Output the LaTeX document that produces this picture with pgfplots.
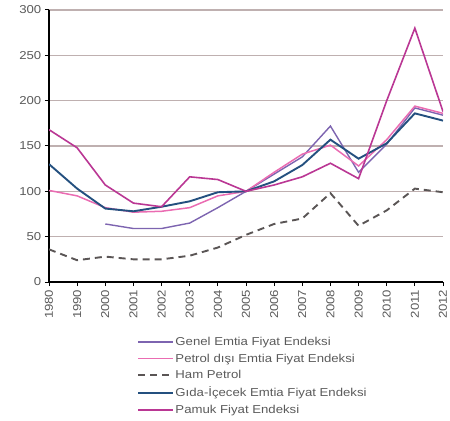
\documentclass[border=0pt]{standalone}
\usepackage{fontspec}
\setmainfont{Liberation Sans}
\newfontfamily\labfont{Liberation Sans}[FakeStretch=1.15]
\usepackage{pgfplots}
\pgfplotsset{compat=1.18}
\definecolor{cGenel}{HTML}{7D64B0}
\definecolor{cPetD}{HTML}{EA6CB2}
\definecolor{cHam}{HTML}{5A5555}
\definecolor{cGida}{HTML}{24507F}
\definecolor{cPamuk}{HTML}{BA3794}
\definecolor{cGrid}{HTML}{BFB0B0}
\definecolor{cTxt}{HTML}{5A5A5A}
\begin{document}
\begin{tikzpicture}
\useasboundingbox (-49bp,-139bp) rectangle (401bp,282bp);
\begin{axis}[
  scale only axis,
  width=394bp, height=272bp,
  xmin=0, xmax=14, ymin=0, ymax=300,
  ytick={0,50,...,300},
  xtick={0,...,14},
  xticklabels={1980,1990,2000,2001,2002,2003,2004,2005,2006,2007,2008,2009,2010,2011,2012},
  xticklabel style={rotate=90, anchor=east, font=\labfont\fontsize{11.5}{10}\selectfont, text=cTxt, inner sep=3.5pt},
  yticklabel style={font=\labfont\fontsize{11.5}{10}\selectfont, text=cTxt, inner sep=3.5pt},
  /pgf/number format/assume math mode=true,
  axis x line*=bottom, axis y line*=left,
  axis line style={black, line width=1.3bp, -},
  tick style={black, line width=1bp},
  major tick length=4bp,
  tick align=outside,
  ymajorgrids, grid style={cGrid, line width=1.4bp},
  legend style={at={(rel axis cs:0.223,-0.195)}, anchor=north west, draw=none, fill=none,
    font=\labfont\fontsize{11.5}{10}\selectfont, text=cTxt, row sep=2.8bp, inner sep=0pt},
  legend cell align=left,
  legend image code/.code={\draw[#1] (0bp,0bp) -- (35bp,0bp);},
  every axis legend/.append style={nodes={inner xsep=1.5bp}},
]
\addplot[cGenel, line width=1.4bp] coordinates {(2,64) (3,59) (4,59) (5,65) (6,82) (7,100) (8,119) (9,138) (10,172) (11,121) (12,152) (13,192) (14,184)};
\addlegendentry{Genel Emtia Fiyat Endeksi}
\addplot[cPetD, line width=1.5bp] coordinates {(0,101) (1,95) (2,82) (3,77) (4,78) (5,82) (6,95) (7,100) (8,121) (9,141) (10,151) (11,128) (12,157) (13,194) (14,186)};
\addlegendentry{Petrol dışı Emtia Fiyat Endeksi}
\addplot[cHam, line width=1.9bp, dash pattern=on 7bp off 5bp] coordinates {(0,36) (1,24) (2,28) (3,25) (4,25) (5,29) (6,38) (7,52) (8,64) (9,70) (10,98) (11,62) (12,79) (13,103) (14,99)};
\addlegendentry{Ham Petrol}
\addplot[cGida, line width=1.9bp] coordinates {(0,130) (1,103) (2,81) (3,78) (4,83) (5,89) (6,99) (7,100) (8,111) (9,129) (10,157) (11,136) (12,153) (13,186) (14,178)};
\addlegendentry{Gıda-İçecek  Emtia Fiyat Endeksi}
\addplot[cPamuk, line width=1.6bp] coordinates {(0,168) (1,148) (2,107) (3,87) (4,83) (5,116) (6,113) (7,100) (8,107) (9,116) (10,131) (11,114) (12,200) (13,280) (14,188)};
\addlegendentry{Pamuk Fiyat Endeksi}
\end{axis}
\end{tikzpicture}
\end{document}
